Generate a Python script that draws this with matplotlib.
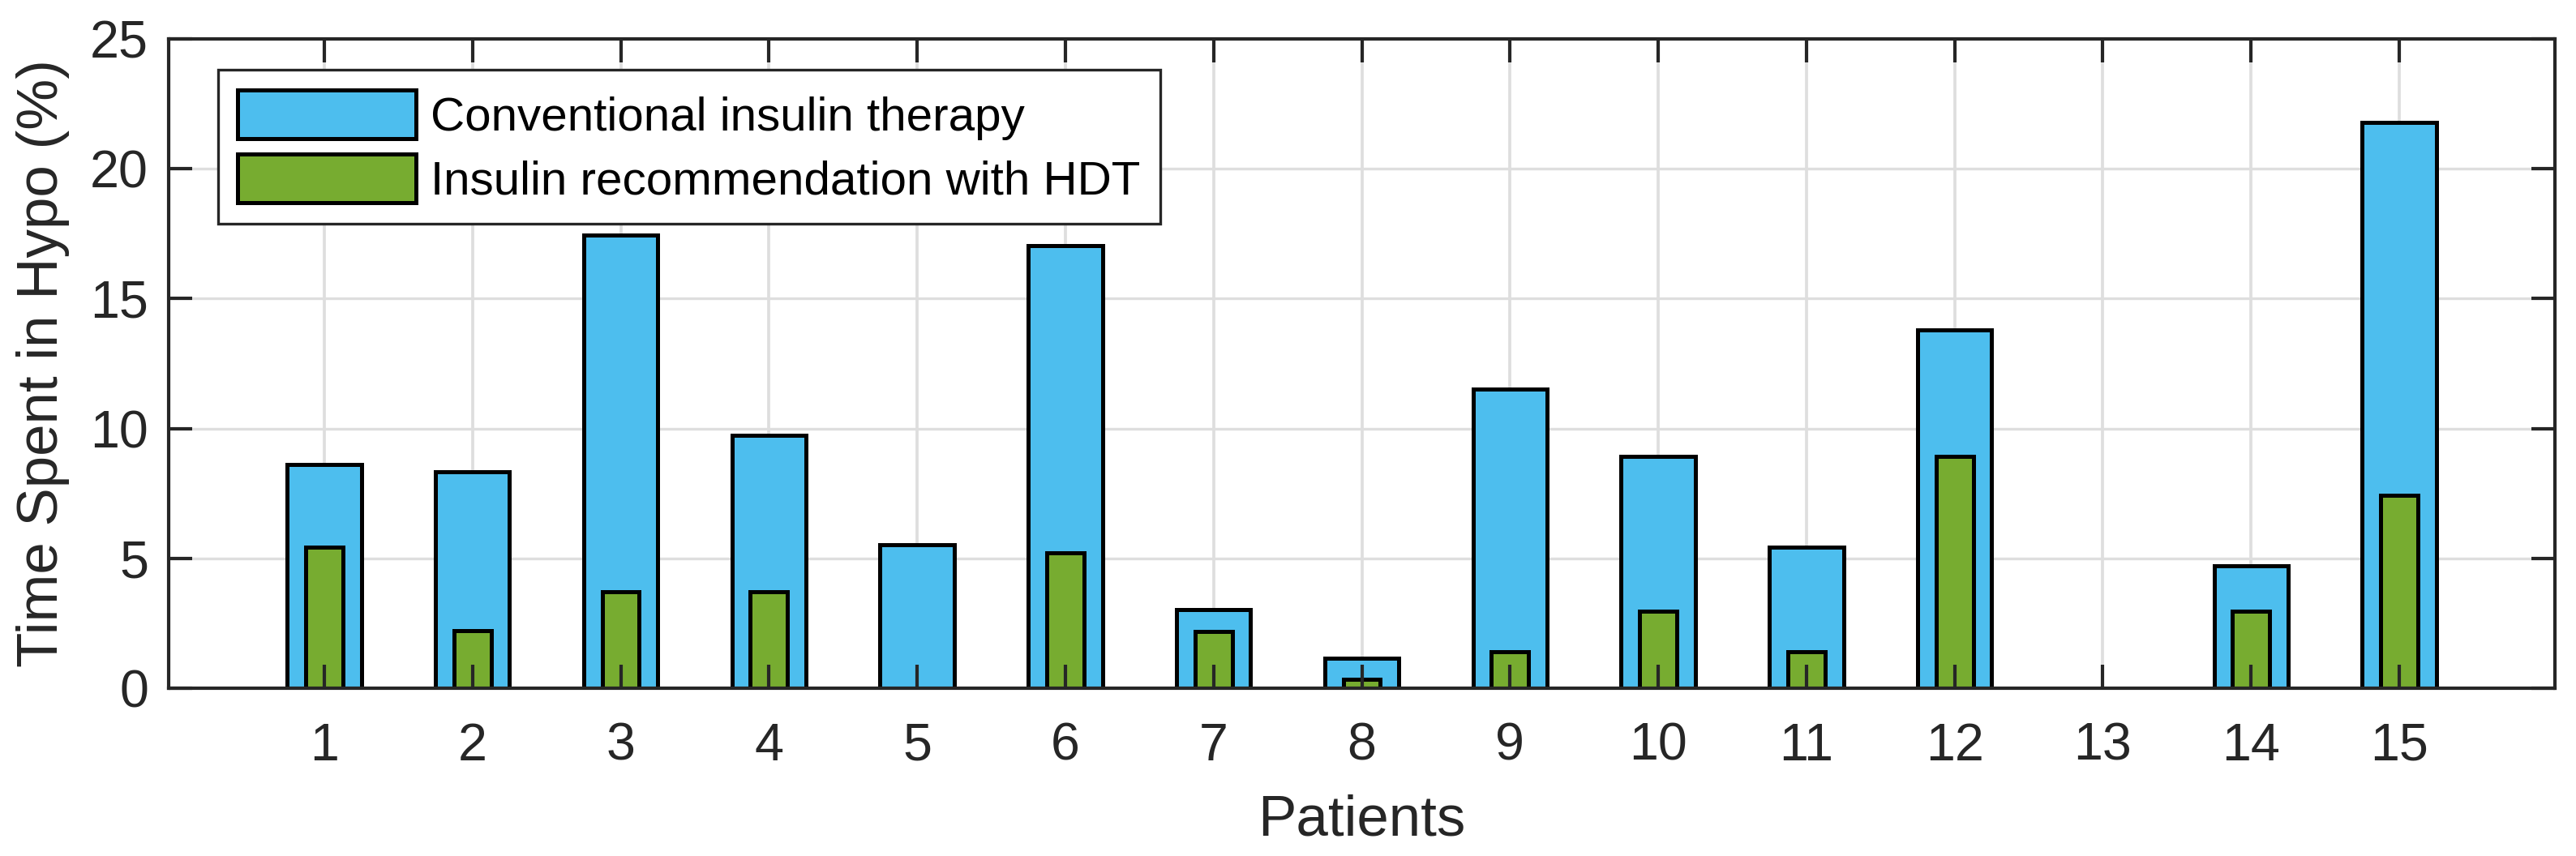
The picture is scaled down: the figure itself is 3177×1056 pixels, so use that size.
import matplotlib
matplotlib.use("Agg")
import matplotlib.pyplot as plt
import numpy as np

plt.rcParams['font.family'] = ['Liberation Sans', 'DejaVu Sans']

patients = list(range(1, 16))
conventional = [8.6, 8.33, 17.44, 9.75, 5.53, 17.03, 3.03, 1.14, 11.53, 8.93, 5.44, 13.8, 0.0, 4.72, 21.8]
hdt = [5.43, 2.21, 3.72, 3.72, 0.0, 5.22, 2.2, 0.33, 1.41, 2.95, 1.41, 8.93, 0.0, 2.95, 7.44]
yticks = [0, 5, 10, 15, 20, 25]
labels = ['Conventional insulin therapy', 'Insulin recommendation with HDT']
colors = ['#4DBEEE', '#77AC30']

W, H = 3177, 1056
dpi = 300
fig = plt.figure(figsize=(W / dpi, H / dpi), dpi=dpi)
ax = fig.add_axes([208 / W, 1 - 849 / H, (3151 - 208) / W, (849 - 48) / H])

dark = '#262626'
grid_c = '#dedede'

# manual grid (below bars)
for yv in yticks:
    ax.axhline(yv, color=grid_c, lw=0.8, zorder=0.3)
for xv in patients:
    ax.axvline(xv, color=grid_c, lw=0.9, zorder=0.3)

x = np.array(patients)
ax.bar(x, conventional, width=0.5, color=colors[0], edgecolor='black', linewidth=1.2, label=labels[0], zorder=1)
ax.bar(x, hdt, width=0.25, color=colors[1], edgecolor='black', linewidth=1.2, label=labels[1], zorder=1.1)

ax.set_xlim(-0.05, 16.05)
ax.set_ylim(0, 25)
ax.set_xticks(patients)
ax.set_yticks(yticks)
ax.tick_params(axis='both', which='major', direction='in', length=7, width=1.0,
               color=dark, labelcolor=dark, labelsize=15.5, top=True, right=True)
ax.tick_params(axis='x', pad=10)
ax.tick_params(axis='y', pad=6)
for sp in ax.spines.values():
    sp.set_color(dark)
    sp.set_linewidth(1.0)
    sp.set_zorder(3)

ax.set_xlabel('Patients', fontsize=17, color=dark, labelpad=7)
ax.set_ylabel('Time Spent in Hypo (%)', fontsize=17, color=dark, labelpad=6)

leg = ax.legend(loc='upper left', bbox_to_anchor=(0.0207, 0.952), borderaxespad=0,
                fontsize=14, frameon=True, fancybox=False, handlelength=3.77,
                handleheight=1.2, handletextpad=0.31, labelspacing=0.3, borderpad=0.42)
leg.get_frame().set_edgecolor(dark)
leg.get_frame().set_linewidth(0.8)
leg.get_frame().set_alpha(1)
leg.set_zorder(5)

fig.savefig('out.png', dpi=dpi)
